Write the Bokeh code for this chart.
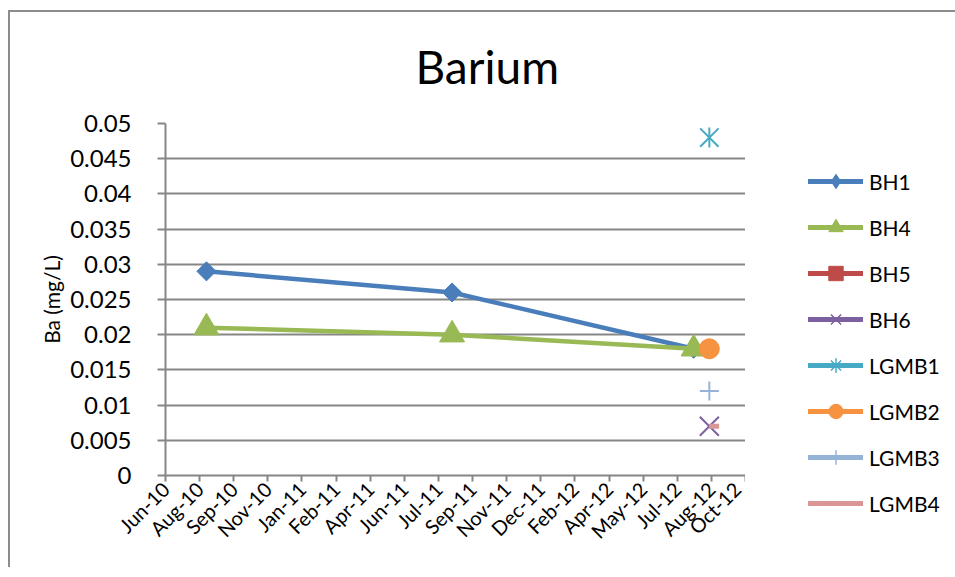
import pandas as pd
from bokeh.plotting import figure
from bokeh.layouts import row, column
from bokeh.models import (ColumnDataSource, Legend, LegendItem, FixedTicker,
                          DatetimeTickFormatter, Range1d, Title)
from bokeh.embed import file_html
from bokeh.resources import INLINE

# ---------------- data ----------------
bh_dates = ["2010-08-20", "2011-08-15", "2012-08-03"]
bh1 = [0.029, 0.026, 0.018]
bh4 = [0.021, 0.020, 0.018]
lgmb_date = ["2012-08-26"]
bh5 = [0.018]          # hidden under the LGMB2 marker
bh6 = [0.007]
lgmb1 = [0.048]
lgmb2 = [0.018]
lgmb3 = [0.012]
lgmb4_date = ["2012-09-02"]
lgmb4 = [0.007]

series_names = ["BH1", "BH4", "BH5", "BH6", "LGMB1", "LGMB2", "LGMB3", "LGMB4"]

x_start = "2010-06-21"
tick_step_days = 50
n_ticks = 18
y_ticks = [0, 0.005, 0.01, 0.015, 0.02, 0.025, 0.03, 0.035, 0.04, 0.045, 0.05]
y_tick_labels = ["0", "0.005", "0.01", "0.015", "0.02", "0.025", "0.03", "0.035", "0.04", "0.045", "0.05"]

# ---------------- helpers ----------------
def to_dt(lst):
    return pd.to_datetime(pd.Series(lst, dtype="object"))

start = pd.Timestamp(x_start)
tick_dates = [start + pd.Timedelta(days=tick_step_days * i) for i in range(n_ticks)]
tick_ms = [t.value / 1e6 for t in tick_dates]

FONT = "Lato"
GRID = "#868686"
H = 565

p = figure(width=737, height=H, x_axis_type="datetime", output_backend="svg",
           toolbar_location=None, tools="",
           min_border_left=157, min_border_right=0, min_border_top=121, min_border_bottom=H - 473)
p.x_range = Range1d(tick_ms[0], tick_ms[-1])
p.y_range = Range1d(0, 0.05)
p.outline_line_color = None
p.border_fill_color = None

p.add_layout(Title(text="Barium", text_font=FONT, text_font_size="46px",
                   text_font_style="normal", align="left", text_color="#000000",
                   offset=250, standoff=60), "above")

# axes
p.xaxis.ticker = FixedTicker(ticks=tick_ms)
p.xaxis.formatter = DatetimeTickFormatter(days="%b-%y", months="%b-%y", years="%b-%y")
p.xaxis.major_label_orientation = 0.785398
p.xaxis.major_label_text_font = FONT
p.xaxis.major_label_text_font_size = "20px"
p.xaxis.major_label_text_color = "#000000"
p.xaxis.minor_tick_line_color = None
p.xaxis.major_tick_in = 0
p.xaxis.major_tick_out = 6
p.xaxis.axis_line_color = GRID
p.xaxis.axis_line_width = 2
p.xaxis.major_tick_line_color = GRID
p.xaxis.major_tick_line_width = 2
p.xaxis.major_label_standoff = 4

yax = p.yaxis[0]
yax.ticker = FixedTicker(ticks=y_ticks)
yax.major_label_overrides = {t: l for t, l in zip(y_ticks, y_tick_labels)}
yax.major_label_text_font = FONT
yax.major_label_text_font_size = "24px"
yax.major_label_text_color = "#000000"
yax.minor_tick_line_color = None
yax.major_tick_in = 0
yax.major_tick_out = 8
yax.axis_line_color = GRID
yax.axis_line_width = 2
yax.major_tick_line_color = GRID
yax.major_tick_line_width = 2
yax.major_label_standoff = 26
yax.axis_label = "Ba (mg/L)"
yax.axis_label_text_font = FONT
yax.axis_label_text_font_size = "21px"
yax.axis_label_text_font_style = "normal"
yax.axis_label_text_color = "#000000"
yax.axis_label_standoff = 3

p.xgrid.grid_line_color = None
p.ygrid.grid_line_color = GRID
p.ygrid.grid_line_width = 2

# ---------------- legend figure ----------------
q = figure(width=210, height=H, output_backend="svg", toolbar_location=None, tools="",
           min_border=0, x_axis_location=None, y_axis_location=None)
q.outline_line_color = None
q.border_fill_color = None
q.background_fill_color = None
q.xgrid.visible = False
q.ygrid.visible = False
q.x_range = Range1d(0, 1)
q.y_range = Range1d(0, 1)

C = {"BH1": "#4A7EBB", "BH4": "#98B954", "BH5": "#BE4B48", "BH6": "#7D60A0",
     "LGMB1": "#46AAC5", "LGMB2": "#F69240", "LGMB3": "#95B3D7", "LGMB4": "#D99694"}
LW = 4.5

plot_markers = {
    "BH1": [dict(marker="square", size=13.5, angle=0.785398, fill_color=C["BH1"], line_color=C["BH1"])],
    "BH4": [dict(marker="triangle", size=25, fill_color=C["BH4"], line_color=C["BH4"])],
    "BH5": [dict(marker="square", size=13, fill_color=C["BH5"], line_color=C["BH5"])],
    "BH6": [dict(marker="x", size=27, line_color=C["BH6"], line_width=2)],
    "LGMB1": [dict(marker="x", size=26, line_color=C["LGMB1"], line_width=2),
              dict(marker="dash", size=20, angle=1.5708, line_color=C["LGMB1"], line_width=2)],
    "LGMB2": [dict(marker="circle", size=20, fill_color=C["LGMB2"], line_color=C["LGMB2"])],
    "LGMB3": [dict(marker="cross", size=19, line_color=C["LGMB3"], line_width=2)],
    "LGMB4": [dict(marker="dash", size=10, line_color=C["LGMB4"], line_width=5)],
}
legend_markers = {
    "BH1": [dict(marker="diamond", fill_color=C["BH1"], line_color=C["BH1"])],
    "BH4": [dict(marker="triangle", fill_color=C["BH4"], line_color=C["BH4"])],
    "BH5": [dict(marker="square", fill_color=C["BH5"], line_color=C["BH5"])],
    "BH6": [dict(marker="x", line_color=C["BH6"], line_width=1.5)],
    "LGMB1": [dict(marker="asterisk", line_color=C["LGMB1"], line_width=1.5)],
    "LGMB2": [dict(marker="circle", fill_color=C["LGMB2"], line_color=C["LGMB2"])],
    "LGMB3": [dict(marker="cross", line_color=C["LGMB3"], line_width=1.5)],
    "LGMB4": [dict(marker="dash", line_color=C["LGMB4"], line_width=4)],
}
series_data = {
    "BH1": (bh_dates, bh1), "BH4": (bh_dates, bh4), "BH5": (lgmb_date, bh5),
    "BH6": (lgmb_date, bh6), "LGMB1": (lgmb_date, lgmb1), "LGMB2": (lgmb_date, lgmb2),
    "LGMB3": (lgmb_date, lgmb3), "LGMB4": (lgmb4_date, lgmb4),
}

items = []
for name in series_names:
    dates, vals = series_data[name]
    src = ColumnDataSource(dict(x=to_dt(dates), y=vals))
    p.line("x", "y", source=src, line_color=C[name], line_width=LW,
           line_cap="round", line_join="round")
    for m in plot_markers[name]:
        p.scatter("x", "y", source=src, **m)
    # legend renderers in the side figure (data lies outside its ranges)
    rs = [q.line("x", "y", source=src, line_color=C[name], line_width=5, line_cap="round")]
    for m in legend_markers[name]:
        rs.append(q.scatter("x", "y", source=src, **m))
    items.append(LegendItem(label=name, renderers=rs))

legend = Legend(items=items, location=(63, 46), border_line_color=None,
                background_fill_alpha=0, padding=0, margin=0, spacing=10,
                glyph_width=55, glyph_height=36, label_standoff=6,
                label_text_font=FONT, label_text_font_size="21px", label_text_color="#000000")
q.add_layout(legend, "center")

layout = row(p, column(q, spacing=0), spacing=0)
layout.styles = {
    "margin-left": "8px", "margin-top": "2px",
    "background": ("linear-gradient(#8c8c8c, #8c8c8c) left 0px top 8px / 100% 2px no-repeat, "
                   "linear-gradient(#8c8c8c, #8c8c8c) left 0px top 8px / 2px 100% no-repeat, #ffffff"),
}

open("out.html", "w").write(file_html(layout, INLINE))
